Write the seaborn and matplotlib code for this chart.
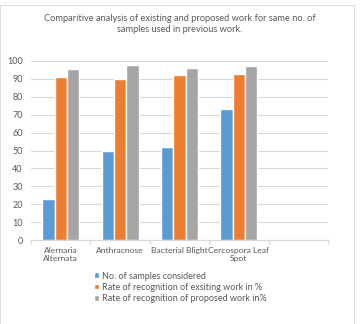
import matplotlib
matplotlib.use("Agg")
import matplotlib.pyplot as plt
import seaborn as sns
import pandas as pd
from matplotlib.patches import Rectangle

categories = ["Alernaria\nAlternata", "Anthracnose", "Bacterial Blight", "Cercospora Leaf\nSpot"]
series_names = ["No. of samples considered",
                "Rate of recognition of exsiting work in %",
                "Rate of recognition of proposed work in%"]
samples = [23, 50, 52, 73]
existing = [91, 90, 92, 93]
proposed = [95.5, 98, 96, 97]
yticks = list(range(0, 101, 10))

colors = ["#5B9BD5", "#ED7D31", "#A5A5A5"]
text_color = "#595959"

rows = []
for vals, name in zip([samples, existing, proposed], series_names):
    for c, v in zip(categories, vals):
        rows.append({"cat": c, "series": name, "value": v})
df = pd.DataFrame(rows)

sns.set_theme(style="white")
plt.rcParams["font.family"] = ["Lato", "DejaVu Sans"]

fig = plt.figure(figsize=(3.61, 3.24), dpi=100)
ax = fig.add_axes([31/361, 1-240/324, 297/361, 179/324])

sns.barplot(data=df, x="cat", y="value", hue="series", order=categories,
            hue_order=series_names, palette=colors, width=0.62, saturation=1,
            ax=ax, legend=True)

ax.set_xlim(-0.5, 4.5)
ax.set_ylim(0, 100)
ax.set_yticks(yticks)
ax.set_yticklabels([str(t) for t in yticks], fontsize=6.5, color=text_color)
ax.set_xticks(range(len(categories)))
ax.set_xticklabels(categories, fontsize=6.1, color=text_color, linespacing=1.15)
ax.tick_params(axis="x", length=0, pad=5)
ax.tick_params(axis="y", length=0, pad=6)
ax.set_xlabel("")
ax.set_ylabel("")
ax.grid(axis="y", color="#D9D9D9", linewidth=0.8)
ax.set_axisbelow(True)
for s in ["top", "right", "left"]:
    ax.spines[s].set_visible(False)
ax.spines["bottom"].set_color("#D9D9D9")
ax.spines["bottom"].set_linewidth(0.8)
# category boundary tick marks
for b in [-0.5, 0.5, 1.5, 2.5, 3.5, 4.5]:
    ax.plot([b, b], [0, -2.2], color="#D9D9D9", linewidth=0.8, clip_on=False)

handles, labels = ax.get_legend_handles_labels()
ax.legend(handles, labels, loc="upper left", bbox_to_anchor=(89/361, 1-267/324),
          bbox_transform=fig.transFigure, frameon=False, fontsize=6.5,
          handlelength=0.6, handleheight=0.6, handletextpad=0.3,
          labelspacing=0.25, borderpad=0, labelcolor=text_color)

fig.text(180/361, 1-24/324,
         "Comparitive analysis of existing and proposed work for same no. of\nsamples used in previous work.",
         ha="center", va="center", fontsize=6.7, color=text_color, linespacing=1.35)

# chart area border
fig.patches.append(Rectangle((0, -0.01), 354/361, 1-5/324+0.01, transform=fig.transFigure,
                             fill=False, edgecolor="#E0E0E0", linewidth=0.8))

fig.savefig("out.png", dpi=100)
